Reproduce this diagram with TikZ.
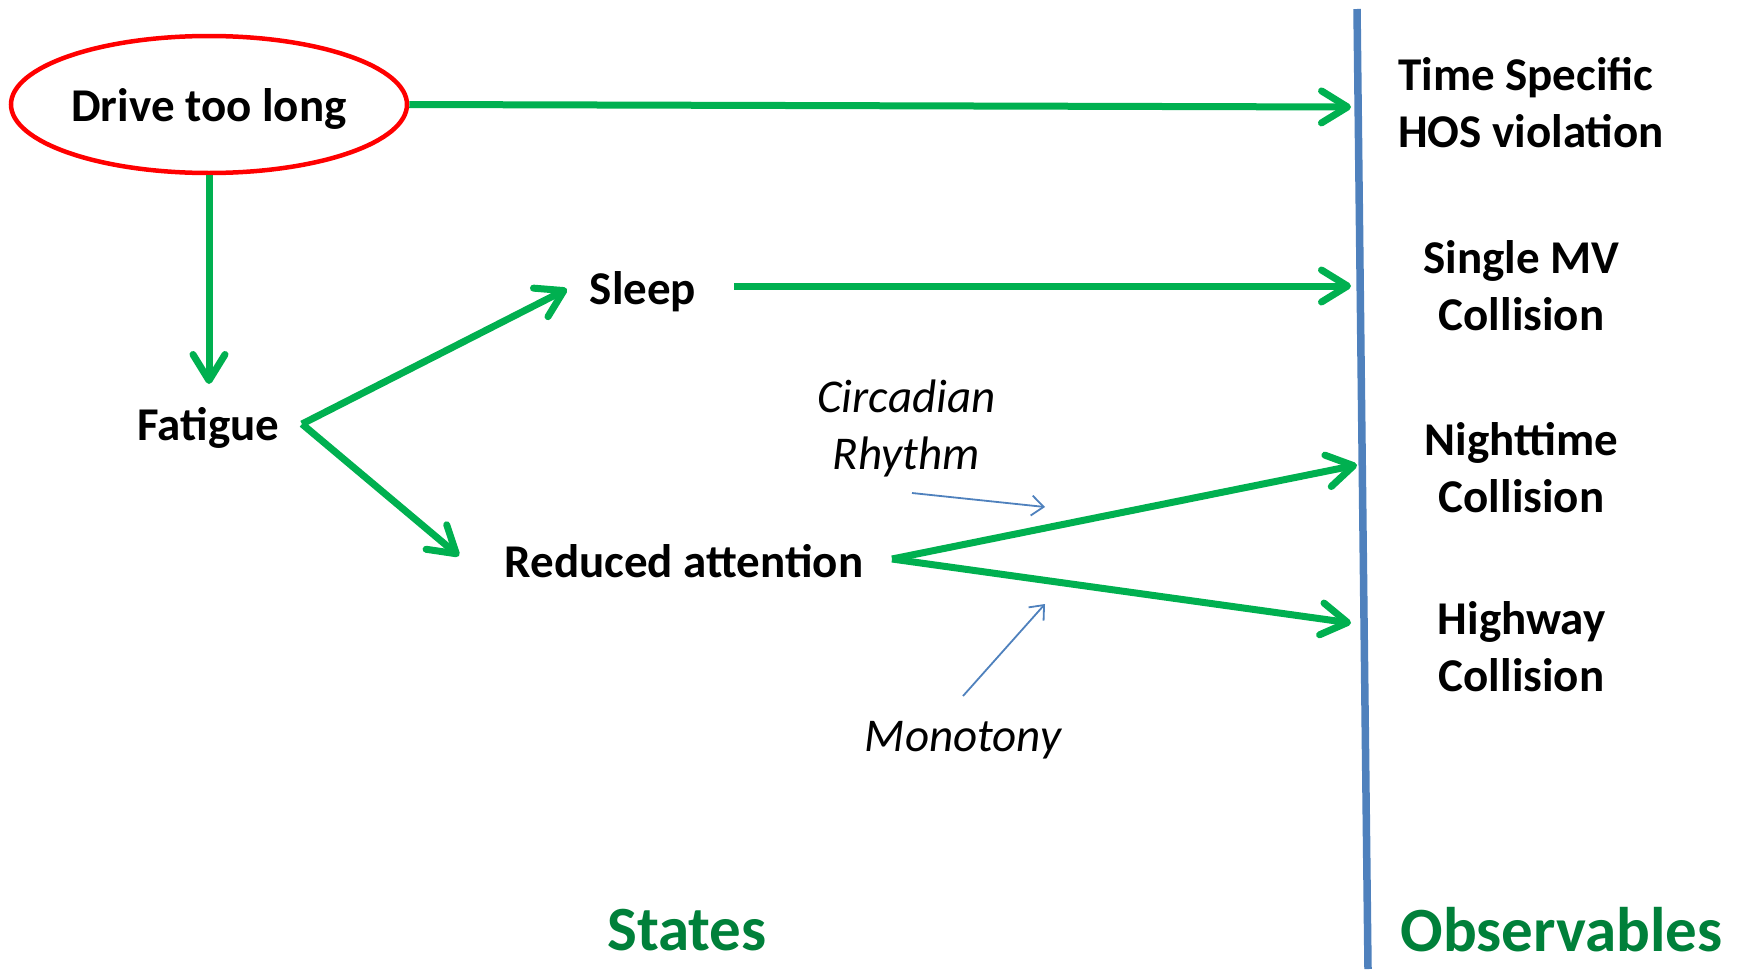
\documentclass[tikz,border=0pt]{standalone}
\usepackage{fontspec}
\setmainfont{Carlito}
\usetikzlibrary{arrows.meta,shapes.geometric,positioning}
\definecolor{flowgreen}{RGB}{0,176,80}
\definecolor{axisblue}{RGB}{79,129,189}
\definecolor{titlegreen}{RGB}{0,128,58}
\tikzset{
  flow/.style={-{Straight Barb[length=26pt,width=32pt,round]},line width=7pt,draw=flowgreen},
  hint/.style={-{Straight Barb[length=12pt,width=20pt]},line width=1.8pt,draw=axisblue},
  state/.style={font=\fontsize{47}{57}\selectfont\bfseries,inner sep=0pt},
  factor/.style={font=\fontsize{47}{57}\selectfont\itshape,align=center,inner sep=0pt},
  obs/.style={font=\fontsize{47}{57}\selectfont\bfseries,align=center,inner sep=0pt},
  heading/.style={font=\fontsize{63}{70}\selectfont\bfseries,text=titlegreen,inner sep=0pt}
}
\begin{document}
\begin{tikzpicture}[x=1pt,y=-1pt]
    \useasboundingbox (0,0) rectangle (1744,969);
    % states
    \node[state,ellipse,draw=red,line width=4.5pt,minimum width=396pt,minimum height=137pt] (drive) at (209,104.5) {};
    \node[state] (drivetext) at (209,109) {Drive too long};
    \node[state] (fatigue) at (208.5,428) {Fatigue};
    \node[state] (sleep) at (643,292) {Sleep};
    \node[state] (reduced) at (684,561) {Reduced attention};
    \node[factor] (circadian) at (906.5,428) {Circadian\\Rhythm};
    \node[factor] (monotony) at (963,740) {Monotony};
    % observables
    \draw[axisblue,line width=7.5pt] (1357,9) coordinate (top) -- (1368,969) coordinate (bottom);
    \node[obs,align=left,anchor=west] (hos) at (1398,103) {Time Specific\\HOS violation};
    \foreach \y/\name/\txt in {286/single/{Single MV\\Collision},468/night/{Nighttime\\Collision},647/highway/{Highway\\Collision}}{
        \node[obs] (\name) at (1521.5,\y) {\txt};
    }
    \node[heading] (states) at (687,930) {States};
    \node[heading] (observables) at (1561.5,930) {Observables};
    % arrow ends
    \coordinate (hosend) at (1351,107);
    \coordinate (singleend) at (1351,286);
    \coordinate (nightend) at (1357,465);
    \coordinate (highwayend) at (1351,623);
    \coordinate (fork) at (302,424);
    \coordinate (split) at (892,559);
    \draw[flow] (drive.east) -- (hosend);
    \draw[flow] (drive.south) -- (209,384);
    \draw[flow] (fork) -- (567,289);
    \draw[flow] (fork) -- (459,556);
    \draw[flow] (734,286) -- (singleend);
    \draw[flow] (split) -- (nightend);
    \draw[flow] (split) -- (highwayend);
    \draw[hint] (912,493) -- (1045,507);
    \draw[hint] (963,696) -- (1045,604);
\end{tikzpicture}
\end{document}
